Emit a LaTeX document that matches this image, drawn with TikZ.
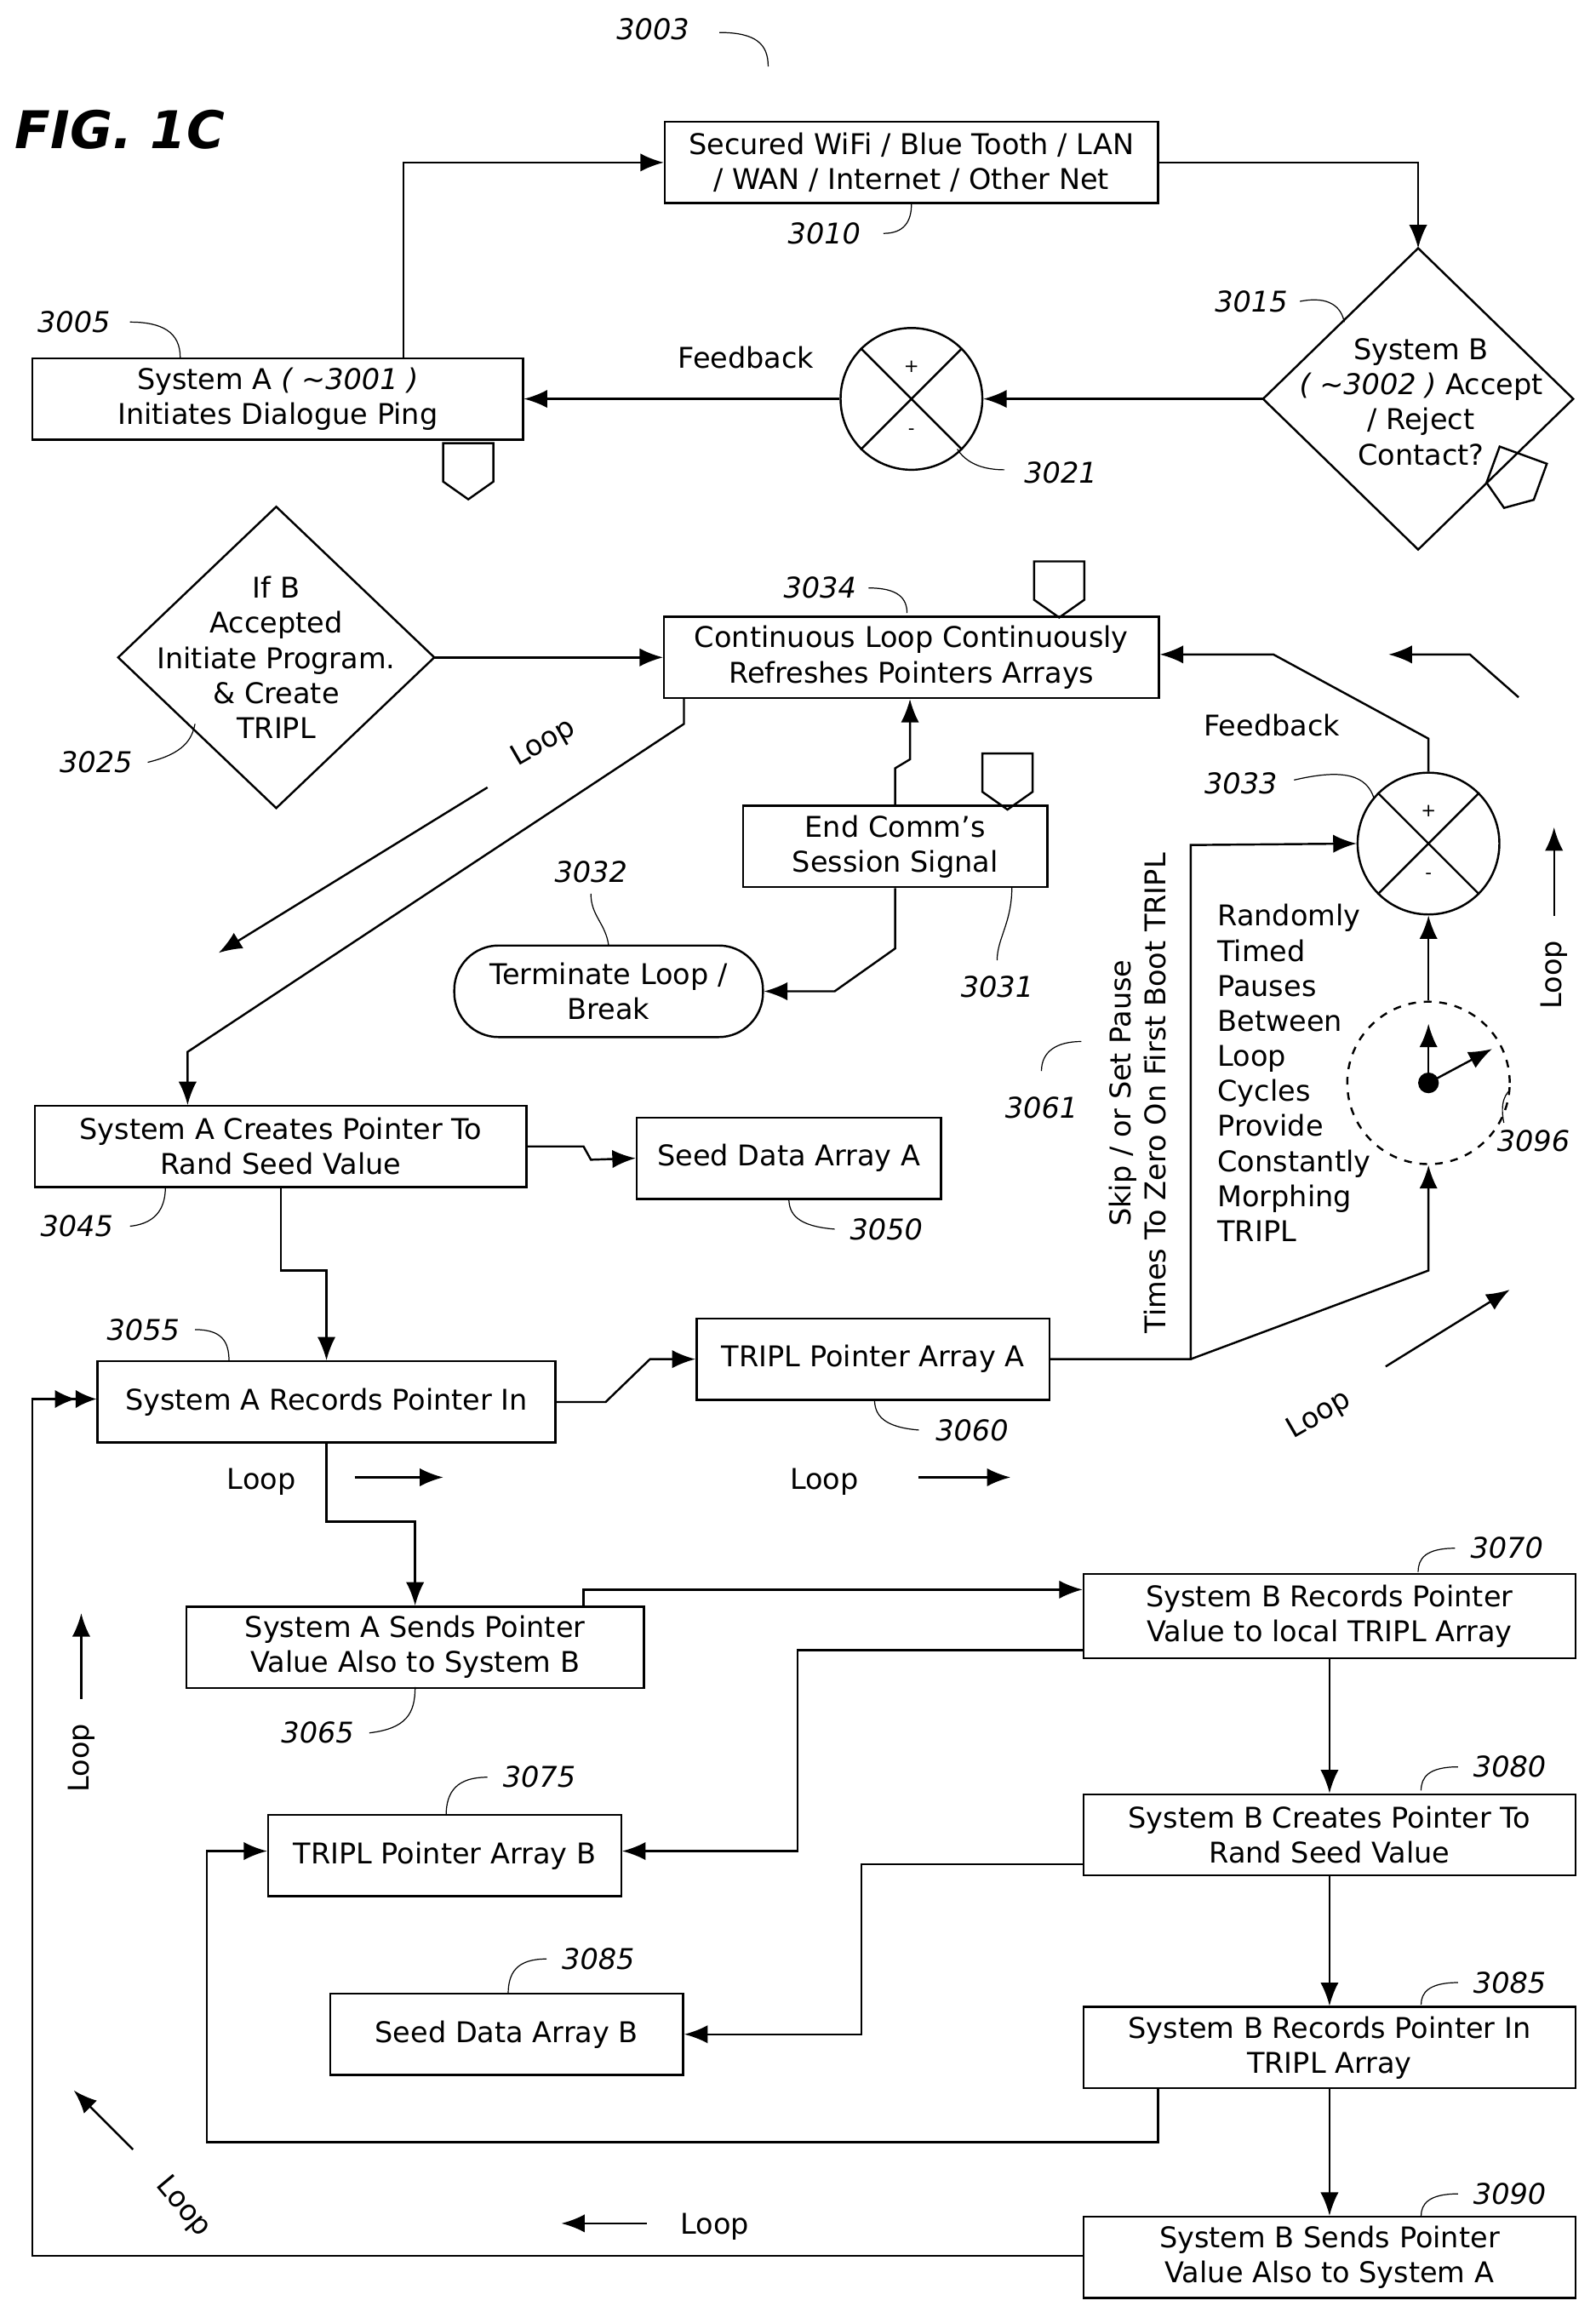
\documentclass[tikz,border=0pt]{standalone}
\usepackage{fontspec}
\setmainfont{DejaVu Sans}
\usetikzlibrary{arrows.meta,shapes.geometric,positioning,calc}

\tikzset{
  box/.style={draw, thick, align=center, minimum height=1.1cm, inner sep=2pt, font=\fontsize{11}{13.5}\selectfont},
  diatext/.style={align=center, inner sep=0pt, font=\fontsize{11}{13.5}\selectfont},
  num/.style={font=\fontsize{11}{13}\selectfont\itshape},
  txt/.style={font=\fontsize{11}{13.5}\selectfont},
  flow/.style={thick, -{Latex[length=9pt,width=7pt]}},
  flow2/.style={thick, -{Latex[length=8pt,width=7pt]Latex[length=8pt,width=7pt]}},
  lead/.style={thin},
}
\newcommand{\sumjunc}[2]{%
  \node[draw, thick, circle, minimum size=1.92cm] (#1) at #2 {};
  \draw[thick] (#1.north west) -- (#1.south east) (#1.north east) -- (#1.south west);
  \node[font=\scriptsize] at ($(#1.center)+(0,-22)$) {+};
  \node[font=\scriptsize] at ($(#1.center)+(0,22)$) {-};}
\newcommand{\offpage}[2]{%
  \draw[thick, rotate around={#2:#1}] ($#1+(-17,-18)$) -- ($#1+(17,-18)$) -- ($#1+(17,8)$) -- ($#1+(0,20)$) -- ($#1+(-17,8)$) -- cycle;}
% diamond: name, centre, half width, half height
\newcommand{\decision}[4]{%
  \coordinate (#1-n) at ($#2+(0,-#4)$);
  \coordinate (#1-s) at ($#2+(0,#4)$);
  \coordinate (#1-w) at ($#2+(-#3,0)$);
  \coordinate (#1-e) at ($#2+(#3,0)$);
  \draw[thick] (#1-n) -- (#1-e) -- (#1-s) -- (#1-w) -- cycle;}

\begin{document}
\begin{tikzpicture}[x=0.02cm, y=-0.02cm]
\useasboundingbox (0,0) rectangle (1080,1565);

% title
\node[font=\fontsize{20}{24}\selectfont\bfseries\itshape, anchor=west, inner sep=0pt] (fig) at (10,88) {FIG. 1C};
\node[num] (n3003) at (442,20) {3003};
\draw[lead] (487,22) .. controls (512,22) and (520,30) .. (520,45);

% top row
\node[box, minimum width=6.68cm] (net) at (617,110) {Secured WiFi / Blue Tooth / LAN\\/ WAN / Internet / Other Net};
\node[box, minimum width=6.64cm] (sysA) at (188,270) {System A \textit{( \char`~3001 )}\\Initiates Dialogue Ping};
\sumjunc{sj1}{(617,270)}
\decision{sysB}{(960,270)}{105}{102}
\node[diatext] (sysBt) at (962,272) {System B\\\textit{( \char`~3002 )} Accept\\/ Reject\\Contact?};
\node[txt] (fb1) at (505,242) {Feedback};
\node[num] (n3010) at (558,158) {3010};
\node[num] (n3005) at (50,218) {3005};
\node[num] (n3015) at (847,204) {3015};
\node[num] (n3021) at (718,320) {3021};
\draw[lead] (598,158) .. controls (612,158) and (617,150) .. (617,138);
\draw[lead] (88,218) .. controls (110,218) and (122,225) .. (122,242);
\draw[lead] (880,204) .. controls (900,200) and (908,208) .. (910,218);
\draw[lead] (680,318) .. controls (660,318) and (652,310) .. (648,304);
\offpage{(317,318)}{0}
\offpage{(1025,325)}{-20}

\draw[flow] (sysA.north -| 273,0) -- (273,110) -- (net.west);
\draw[flow] (net.east) -- (960,110) -- (sysB-n);
\draw[flow] (sysB-w) -- (sj1.east);
\draw[flow] (sj1.west) -- (sysA.east);

% second row
\decision{ifB}{(187,445)}{107}{102}
\node[diatext] (ifBt) at (187,445) {If B\\Accepted\\Initiate Program.\\\& Create\\TRIPL};
\node[box, minimum width=6.7cm] (loop) at (617,445) {Continuous Loop Continuously\\Refreshes Pointers Arrays};
\node[box, minimum width=4.12cm] (endc) at (606,573) {End Comm's\\Session Signal};
\node[box, rounded corners=0.6cm, minimum width=4.18cm, minimum height=1.24cm] (term) at (412,671) {Terminate Loop /\\Break};
\sumjunc{sj2}{(967,571)}
\node[draw, thick, dashed, circle, minimum size=2.2cm] (clock) at (967,733) {};
\fill (967,733) circle (7);
\draw[flow] (967,733) -- (967,693);
\draw[flow] (967,733) -- (1010,710);
\node[num] (n3025) at (65,516) {3025};
\node[num] (n3034) at (555,398) {3034};
\node[num] (n3032) at (400,590) {3032};
\node[num] (n3031) at (675,668) {3031};
\node[num] (n3033) at (840,530) {3033};
\node[num] (n3096) at (1038,772) {3096};
\node[num] (n3061) at (705,750) {3061};
\node[txt] (fb2) at (861,491) {Feedback};
\draw[lead] (100,516) .. controls (125,510) and (130,500) .. (132,490);
\draw[lead] (588,398) .. controls (608,398) and (614,405) .. (614,415);
\draw[lead] (400,605) .. controls (400,620) and (410,625) .. (412,640);
\draw[lead] (675,650) .. controls (675,635) and (685,625) .. (685,600);
\draw[lead] (876,528) .. controls (910,520) and (925,525) .. (930,540);
\draw[lead] (1018,760) .. controls (1015,745) and (1020,740) .. (1022,738);
\draw[lead] (705,725) .. controls (705,712) and (715,705) .. (732,705);
\offpage{(717,398)}{0}
\offpage{(682,528)}{0}
\node[txt, align=left, anchor=north west] (rnd) at (818,606) {Randomly\\Timed\\Pauses\\Between\\Loop\\Cycles\\Provide\\Constantly\\Morphing\\TRIPL};
\node[txt, rotate=90, align=center] (skip) at (770,740) {Skip / or Set Pause\\Times To Zero On First Boot TRIPL};

\draw[flow] (ifB-e) -- (loop.west);
\draw[flow] (463,472) -- (463,490) -- (127,712) -- (127,748);
\draw[flow] (endc.north) -- (606,520) -- (616,514) -- (loop.south -| 616,0);
\draw[flow] (endc.south) -- (606,642) -- (565,671) -- (term.east);
\draw[flow] (sj2.north) -- (967,500) -- (862,443) -- (loop.east |- 0,443);
\draw[flow] (clock.north) -- (sj2.south);

% third block
\node[box, minimum width=6.66cm] (crA) at (190,776) {System A Creates Pointer To\\Rand Seed Value};
\node[box, minimum width=4.12cm] (seedA) at (534,784) {Seed Data Array A};
\node[box, minimum width=6.2cm] (recA) at (221,949) {System A Records Pointer In};
\node[box, minimum width=4.78cm] (tripA) at (591,920) {TRIPL Pointer Array A};
\node[box, minimum width=6.2cm] (sndA) at (281,1115) {System A Sends Pointer\\Value Also to System B};
\node[num] (n3045) at (52,830) {3045};
\node[num] (n3050) at (600,832) {3050};
\node[num] (n3055) at (97,900) {3055};
\node[num] (n3060) at (658,968) {3060};
\node[num] (n3065) at (215,1173) {3065};
\draw[lead] (88,830) .. controls (108,828) and (112,815) .. (112,803);
\draw[lead] (565,832) .. controls (540,830) and (534,822) .. (534,811);
\draw[lead] (132,900) .. controls (150,900) and (155,908) .. (155,921);
\draw[lead] (622,968) .. controls (598,966) and (592,958) .. (592,947);
\draw[lead] (250,1173) .. controls (275,1170) and (281,1160) .. (281,1142);

\draw[flow] (crA.east) -- (395,776) -- (400,785) -- (seedA.west);
\draw[flow] (crA.south) -- (190,860) -- (221,860) -- (recA.north);
\draw[flow] (recA.east) -- (410,949) -- (440,920) -- (tripA.west);
\draw[flow] (recA.south) -- (221,1030) -- (281,1030) -- (sndA.north);
\draw[flow] (tripA.east) -- (806,920) -- (806,572) -- (sj2.west);
\draw[flow] (806,920) -- (967,860) -- (clock.south);

% system B side
\node[box, minimum width=6.66cm, minimum height=1.14cm] (recB) at (900,1094) {System B Records Pointer\\Value to local TRIPL Array};
\node[box, minimum width=4.78cm] (tripB) at (301,1256) {TRIPL Pointer Array B};
\node[box, minimum width=6.66cm] (crB) at (900,1242) {System B Creates Pointer To\\Rand Seed Value};
\node[box, minimum width=4.78cm] (seedB) at (343,1377) {Seed Data Array B};
\node[box, minimum width=6.66cm] (recBin) at (900,1386) {System B Records Pointer In\\TRIPL Array};
\node[box, minimum width=6.66cm] (sndB) at (900,1528) {System B Sends Pointer\\Value Also to System A};
\node[num] (n3070) at (1020,1048) {3070};
\node[num] (n3075) at (365,1203) {3075};
\node[num] (n3080) at (1022,1196) {3080};
\node[num] (n3085a) at (405,1326) {3085};
\node[num] (n3085b) at (1022,1342) {3085};
\node[num] (n3090) at (1022,1485) {3090};
\draw[lead] (985,1048) .. controls (965,1048) and (960,1055) .. (960,1064);
\draw[lead] (330,1203) .. controls (310,1203) and (302,1212) .. (302,1229);
\draw[lead] (987,1196) .. controls (967,1196) and (962,1203) .. (962,1212);
\draw[lead] (370,1326) .. controls (350,1326) and (344,1335) .. (344,1350);
\draw[lead] (987,1342) .. controls (967,1342) and (962,1349) .. (962,1357);
\draw[lead] (987,1485) .. controls (967,1485) and (962,1492) .. (962,1500);

\draw[flow] (395,1088) -- (395,1076) -- (recB.west |- 0,1076);
\draw[flow] (733,1117) -- (540,1117) -- (540,1253) -- (tripB.east |- 0,1253);
\draw[flow] (recB.south) -- (crB.north);
\draw[flow] (733,1262) -- (583,1262) -- (583,1377) -- (seedB.east);
\draw[flow] (crB.south) -- (recBin.north);
\draw[flow] (recBin.south) -- (sndB.north);
\draw[flow] (784,1413) -- (784,1450) -- (140,1450) -- (140,1253) -- (tripB.west |- 0,1253);
\draw[flow2] (sndB.west |- 0,1527) -- (22,1527) -- (22,947) -- (recA.west |- 0,947);

% loop markers
\node[txt, rotate=30] (lp1) at (368,503) {Loop};
\draw[flow] (330,533) -- (148,645);
\node[txt] (lp2) at (177,1003) {Loop};
\draw[flow] (240,1000) -- (300,1000);
\node[txt] (lp3) at (558,1003) {Loop};
\draw[flow] (622,1000) -- (684,1000);
\node[txt, rotate=90] (lp4) at (55,1190) {Loop};
\draw[flow] (55,1150) -- (55,1092);
\node[txt, rotate=-50] (lp5) at (124,1494) {Loop};
\draw[flow] (90,1455) -- (50,1415);
\node[txt] (lp6) at (484,1507) {Loop};
\draw[flow] (438,1505) -- (380,1505);
\node[txt, rotate=30] (lp7) at (893,958) {Loop};
\draw[flow] (938,925) -- (1022,873);
\node[txt, rotate=90] (lp8) at (1052,660) {Loop};
\draw[flow] (1052,620) -- (1052,560);
\draw[flow] (1028,472) -- (995,443) -- (940,443);
\end{tikzpicture}
\end{document}
